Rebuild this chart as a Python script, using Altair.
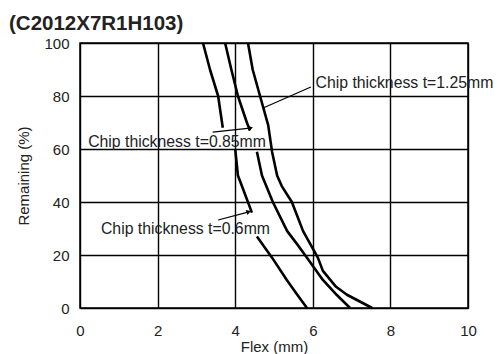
import altair as alt
import pandas as pd

# ---- data ----
series_names = ["t=0.6mm", "t=0.85mm", "t=1.25mm"]

# t = 0.6 mm (three drawn pieces, broken where the labels sit)
t06_x = [3.17, 3.35, 3.56, 3.68, 4.00, 4.07, 4.20, 4.43, 4.56, 4.95, 5.33, 5.60, 5.85]
t06_y = [100, 90, 80, 68, 60, 50, 45, 36, 27, 19, 10.6, 5, 0]
t06_seg = [0, 0, 0, 0, 1, 1, 1, 1, 2, 2, 2, 2, 2]

# t = 0.85 mm
t085_x = [3.74, 3.90, 4.07, 4.30, 4.38, 4.56, 4.69, 4.97, 5.34, 5.60, 5.85, 6.26, 6.62, 6.96]
t085_y = [100, 90, 80, 70, 67, 59, 50, 40, 29, 24, 19, 10.6, 4.9, 0]
t085_seg = [0, 0, 0, 0, 0, 1, 1, 1, 1, 1, 1, 1, 1, 1]

# t = 1.25 mm
t125_x = [4.33, 4.45, 4.64, 4.85, 4.95, 5.08, 5.20, 5.46, 5.75, 6.13, 6.26, 6.60, 6.88, 7.53]
t125_y = [100, 90, 80, 69, 59, 50, 46, 40, 29, 19, 14, 8, 5, 0]
t125_seg = [0, 0, 0, 0, 0, 0, 0, 0, 0, 0, 0, 0, 0, 0]

# annotations
title_text = ["(C2012X7R1H103)"]
label_texts = ["Chip thickness t=1.25mm", "Chip thickness t=0.85mm", "Chip thickness t=0.6mm"]
label_x = [6.07, 0.21, 0.54]
label_y = [84.9, 62.6, 29.8]

# leader lines (from, to) in data units
leader_x = [5.95, 3.42, 3.56]
leader_y = [83.4, 66.4, 33.2]
leader_x2 = [4.72, 4.38, 4.33]
leader_y2 = [75.5, 67.9, 36.2]
arrow_angle = [0, 80, 70]

x_ticks = [0, 2, 4, 6, 8, 10]
y_ticks = [0, 20, 40, 60, 80, 100]

FONT = "Liberation Sans"

rows = []
for name, xs, ys, segs in [
    (series_names[0], t06_x, t06_y, t06_seg),
    (series_names[1], t085_x, t085_y, t085_seg),
    (series_names[2], t125_x, t125_y, t125_seg),
]:
    for i, (xv, yv, sv) in enumerate(zip(xs, ys, segs)):
        rows.append({"series": name, "piece": f"{name}-{sv}", "order": i, "flex": xv, "remaining": yv})
curves = pd.DataFrame(rows)

labels = pd.DataFrame({"text": label_texts, "x": label_x, "y": label_y})
leaders = pd.DataFrame({"x": leader_x, "y": leader_y, "x2": leader_x2, "y2": leader_y2})
heads = pd.DataFrame({"x": leader_x2[1:], "y": leader_y2[1:], "angle": arrow_angle[1:]})
title_df = pd.DataFrame({"text": title_text})

xscale = alt.Scale(domain=[0, 10], nice=False)
yscale = alt.Scale(domain=[0, 100], nice=False)

x_axis = alt.Axis(
    values=x_ticks, grid=True, gridColor="black", gridWidth=1.4, gridOpacity=1,
    ticks=False, domain=False, labelFlush=False, labelFont=FONT, labelFontSize=15,
    labelColor="#222", labelPadding=15, title="Flex (mm)", titleFont=FONT,
    titleFontSize=15, titleFontWeight="normal", titleColor="#222", titlePadding=1,
)
y_axis = alt.Axis(
    values=y_ticks, grid=True, gridColor="black", gridWidth=1.4, gridOpacity=1,
    ticks=False, domain=False, labelFlush=False, labelFont=FONT, labelFontSize=15,
    labelColor="#222", labelPadding=11, title="Remaining (%)", titleFont=FONT,
    titleFontSize=15, titleFontWeight="normal", titleColor="#222", titlePadding=12,
)

lines = alt.Chart(curves).mark_line(color="black", strokeWidth=2.6, strokeJoin="round").encode(
    x=alt.X("flex:Q", scale=xscale, axis=x_axis),
    y=alt.Y("remaining:Q", scale=yscale, axis=y_axis),
    detail="piece:N",
    order="order:Q",
)

leader_rules = alt.Chart(leaders).mark_rule(color="black", strokeWidth=1.2).encode(
    x="x:Q", y="y:Q", x2="x2:Q", y2="y2:Q"
)

arrow_heads = alt.Chart(heads).mark_point(
    shape="triangle", filled=True, color="black", size=28, opacity=1
).encode(x="x:Q", y="y:Q", angle=alt.Angle("angle:Q", scale=None))

texts = alt.Chart(labels).mark_text(
    align="left", baseline="middle", font=FONT, fontSize=15.8, color="#222"
).encode(x="x:Q", y="y:Q", text="text:N")

title_mark = alt.Chart(title_df).mark_text(
    align="left", baseline="alphabetic", font=FONT, fontSize=20.5, fontWeight="bold",
    color="#222",
).encode(x=alt.value(-71), y=alt.value(-13), text="text:N")

chart = (
    alt.layer(lines, leader_rules, arrow_heads, texts, title_mark)
    .properties(
        width=388,
        height=265,
        autosize=alt.AutoSizeParams(type="none"),
        padding={"left": 72, "top": 35, "right": 25, "bottom": 46},
    )
    .configure_view(stroke="black", strokeWidth=1.5)
)

chart.save("out.html", embed_options={"renderer": "svg", "actions": False})
